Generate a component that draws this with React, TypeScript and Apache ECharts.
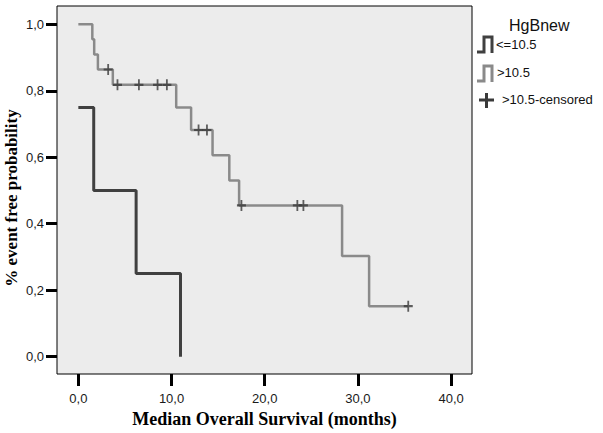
import React, { useEffect, useRef } from "react";
import * as echarts from "echarts";

const xTicks = [0, 10, 20, 30, 40];
const yTicks = [0, 0.2, 0.4, 0.6, 0.8, 1.0];

const lowTimes = [0, 1.65, 6.2, 10.96];
const lowSurv = [0.75, 0.5, 0.25, 0.0];

const highTimes = [0, 1.5, 1.7, 2.1, 3.7, 10.5, 12.1, 14.4, 16.2, 17.25, 28.3, 31.2, 35.4];
const highSurv = [1.0, 0.955, 0.909, 0.864, 0.818, 0.75, 0.682, 0.606, 0.53, 0.455, 0.303, 0.152, 0.152];

const censorTimes = [3.2, 4.2, 6.5, 8.5, 9.5, 12.9, 13.8, 17.5, 23.5, 24.15, 35.4];
const censorSurv = [0.864, 0.818, 0.818, 0.818, 0.818, 0.682, 0.682, 0.455, 0.455, 0.455, 0.152];

const xTitle = "Median Overall Survival (months)";
const yTitle = "% event free probability";
const legendTitle = "HgBnew";
const legendLabels = ["<=10.5", ">10.5", ">10.5-censored"];

const DARK = "#404040";
const GRAY = "#8a8a8a";
const CENSOR = "#3a3a3a";
const fmt = (v: number) => v.toFixed(1).replace(".", ",");
const tickFont = "'Liberation Sans Narrow', 'Arial Narrow', 'Liberation Sans', Arial, sans-serif";
const titleFont = "'Liberation Serif', 'Times New Roman', serif";

export default function App() {
  const ref = useRef<HTMLDivElement>(null);
  useEffect(() => {
    if (!ref.current) return;
    const chart = echarts.init(ref.current, undefined, { renderer: "svg" });
    const plus = "path://M4,0h2v4h4v2h-4v4h-2v-4h-4v-2h4z";
    chart.setOption({
      animation: false,
      backgroundColor: "#ffffff",
      grid: {
        left: 57,
        top: 6,
        width: 415,
        height: 368,
        containLabel: false,
        outerBoundsMode: "none",
        show: true,
        backgroundColor: "#ececec",
        borderColor: "#000",
        borderWidth: 1,
      },
      xAxis: {
        type: "value",
        min: -2.29,
        max: 42.24,
        name: xTitle,
        nameLocation: "middle",
        nameGap: 34,
        nameTextStyle: {
          fontFamily: titleFont,
          fontWeight: "bold",
          fontSize: 18,
          color: "#000",
        },
        axisLine: { show: false, onZero: false },
        splitLine: { show: false },
        axisTick: {
          show: true,
          inside: false,
          length: 12,
          customValues: xTicks,
          lineStyle: { color: "#000", width: 3 },
        },
        axisLabel: {
          customValues: xTicks,
          formatter: (v: number) => fmt(v),
          fontFamily: tickFont,
          fontSize: 13,
          color: "#1a1a1a",
          margin: 18,
        },
      },
      yAxis: {
        type: "value",
        min: -0.052,
        max: 1.055,
        axisLine: { show: false, onZero: false },
        splitLine: { show: false },
        axisTick: {
          show: true,
          inside: false,
          length: 11,
          customValues: yTicks,
          lineStyle: { color: "#000", width: 3 },
        },
        axisLabel: {
          customValues: yTicks,
          formatter: (v: number) => fmt(v),
          fontFamily: tickFont,
          fontSize: 13,
          color: "#1a1a1a",
          margin: 13,
        },
      },
      series: [
        {
          type: "line",
          step: "end",
          showSymbol: false,
          data: highTimes.map((t, i) => [t, highSurv[i]]),
          lineStyle: { color: GRAY, width: 2.5 },
          z: 2,
        },
        {
          type: "line",
          step: "end",
          showSymbol: false,
          data: lowTimes.map((t, i) => [t, lowSurv[i]]),
          lineStyle: { color: DARK, width: 3 },
          z: 2,
        },
        {
          type: "scatter",
          symbol: plus,
          symbolSize: [9, 11],
          data: censorTimes.map((t, i) => [t, censorSurv[i]]),
          itemStyle: { color: CENSOR },
          z: 3,
        },
      ],
      graphic: [
        {
          type: "text",
          x: 11,
          y: 198,
          rotation: Math.PI / 2,
          style: {
            text: yTitle,
            fontFamily: titleFont,
            fontWeight: "bold",
            fontSize: 17,
            fill: "#000",
            align: "center",
            verticalAlign: "middle",
          },
        },
        {
          type: "text",
          left: 509,
          top: 17,
          style: { text: legendTitle, fontFamily: "'Liberation Sans', Arial, sans-serif", fontSize: 16, fill: "#111" },
        },
        {
          type: "polyline",
          shape: { points: [[477, 52], [484, 52], [484, 37], [492, 37], [492, 53]] },
          style: { stroke: DARK, lineWidth: 3, fill: "none" },
        },
        {
          type: "text",
          left: 496,
          top: 38,
          style: { text: legendLabels[0], fontFamily: tickFont, fontSize: 13, fill: "#111" },
        },
        {
          type: "polyline",
          shape: { points: [[477, 81], [484, 81], [484, 66], [492, 66], [492, 82]] },
          style: { stroke: GRAY, lineWidth: 3, fill: "none" },
        },
        {
          type: "text",
          left: 497,
          top: 66,
          style: { text: legendLabels[1], fontFamily: tickFont, fontSize: 13, fill: "#111" },
        },
        {
          type: "line",
          shape: { x1: 479, y1: 100, x2: 494, y2: 100 },
          style: { stroke: CENSOR, lineWidth: 3 },
        },
        {
          type: "line",
          shape: { x1: 486.5, y1: 93, x2: 486.5, y2: 108 },
          style: { stroke: CENSOR, lineWidth: 3 },
        },
        {
          type: "text",
          left: 502,
          top: 93,
          style: { text: legendLabels[2], fontFamily: tickFont, fontSize: 13, fill: "#111" },
        },
      ],
    });
    return () => chart.dispose();
  }, []);
  return (
    <div
      ref={ref}
      style={{ position: "absolute", left: 0, top: 0, width: 603, height: 433, background: "#fff" }}
    />
  );
}
